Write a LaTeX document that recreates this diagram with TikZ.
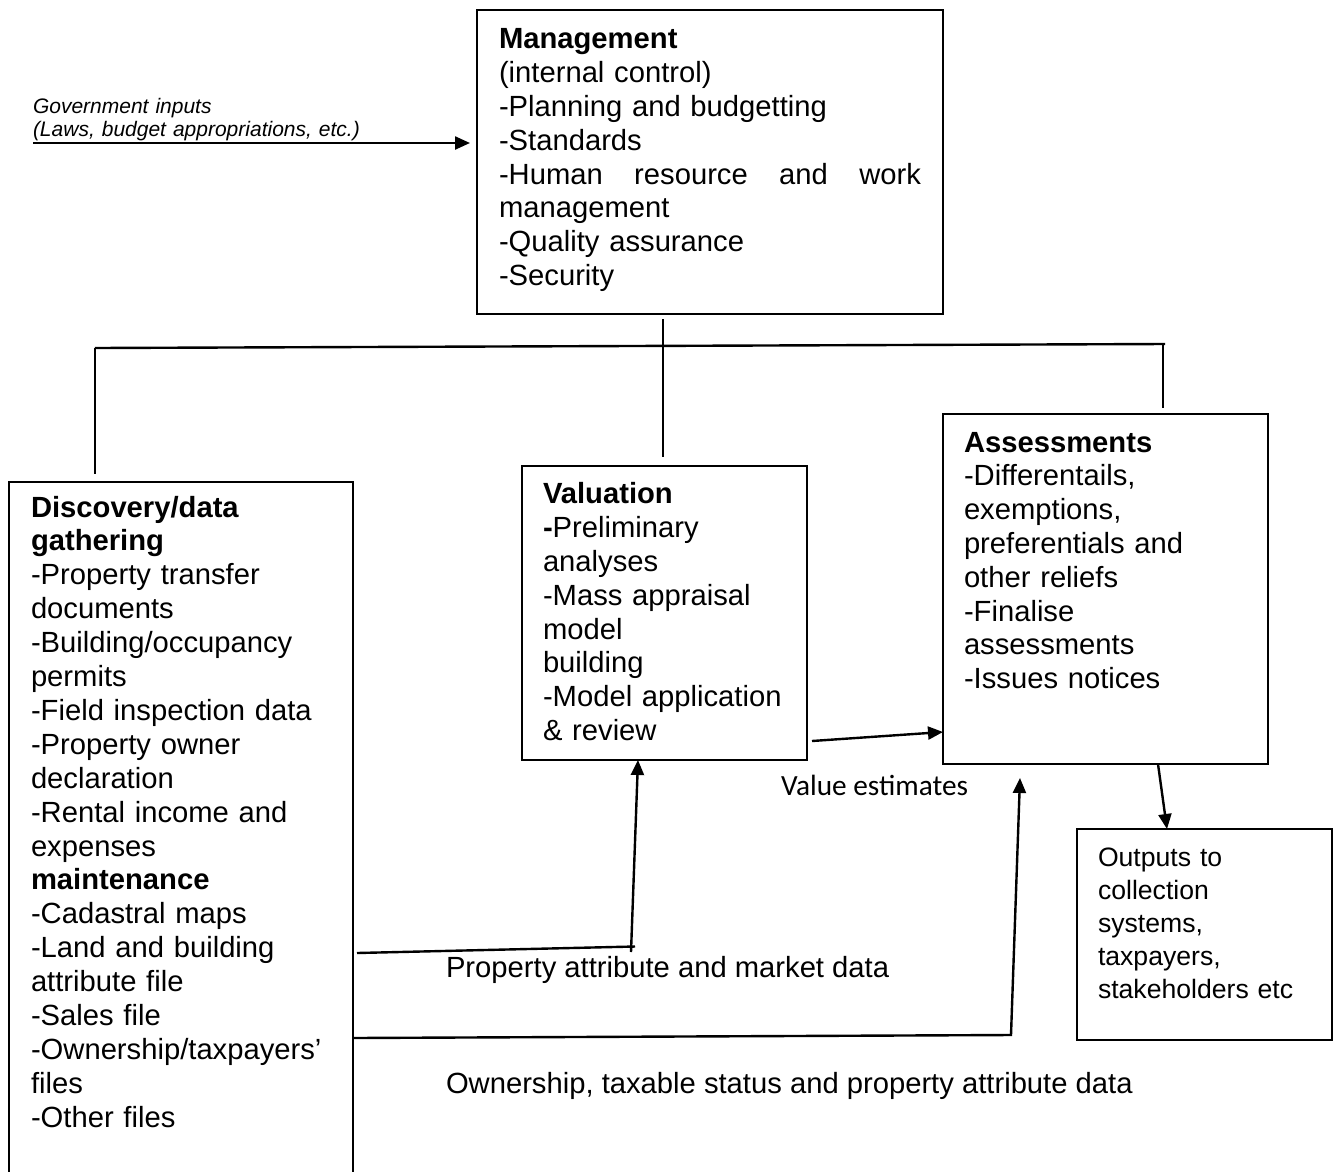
\documentclass[tikz,border=0pt]{standalone}
\usepackage{fontspec}
\setmainfont{Liberation Sans}
\newfontfamily\calib{Carlito}
\usetikzlibrary{arrows.meta,calc}
\newcommand\mainsz{\fontsize{29.2}{33.8}\selectfont}
\begin{document}
\begin{tikzpicture}[x=1pt,y=-1pt,
  box/.style={draw, line width=2.4pt, inner sep=0pt, outer sep=0pt, anchor=north west},
  txt/.style={anchor=north west, inner sep=0pt, outer sep=0pt, align=left, text width=#1},
  txt/.default=440pt,
  lbl/.style={anchor=base west, inner sep=0pt, outer sep=0pt},
  conn/.style={line width=2.4pt},
  arr/.style={-{Triangle[length=15pt,width=13pt]}}]
\useasboundingbox (0,0) rectangle (1334,1171);

% boxes
\node[box, minimum width=466pt, minimum height=304pt] (mgmt) at (477,10) {};
\node[box, minimum width=344pt, minimum height=720pt] (disc) at (9,482) {};
\node[box, minimum width=285pt, minimum height=294pt] (val) at (522,466) {};
\node[box, minimum width=325pt, minimum height=350pt] (ass) at (943,414) {};
\node[box, minimum width=255pt, minimum height=211pt] (outp) at (1077,829) {};

% box texts
\node[txt, font=\mainsz] (mgmtT) at (499,25.3) {\strut\textbf{Management}\\
(internal control)\\
-Planning and budgetting\\
-Standards\\
\leavevmode\hbox to 422pt{-Human\hfill resource\hfill and\hfill work}\\
management\\
-Quality assurance\\
-Security};

\node[txt, font=\fontsize{29.2}{33.9}\selectfont] (discT) at (31,493.3) {\strut\textbf{Discovery/data}\\
\textbf{gathering}\\
-Property transfer\\
documents\\
-Building/occupancy\\
permits\\
-Field inspection data\\
-Property owner\\
declaration\\
-Rental income and\\
expenses\\
\textbf{maintenance}\\
-Cadastral maps\\
-Land and building\\
attribute file\\
-Sales file\\
-Ownership/taxpayers’\\
files\\
-Other files};

\node[txt, font=\mainsz] (valT) at (543,480.3) {\strut\textbf{Valuation}\\
\textbf{-}Preliminary\\
analyses\\
-Mass appraisal\\
model\\
building\\
-Model application\\
\& review};

\node[txt, font=\mainsz] (assT) at (964,428.5) {\strut\textbf{Assessments}\\
-Differentails,\\
exemptions,\\
preferentials and\\
other reliefs\\
-Finalise\\
assessments\\
-Issues notices};

\node[txt, font=\fontsize{26.6}{32.9}\selectfont] (outT) at (1098,843.5) {\strut Outputs to\\
collection\\
systems,\\
taxpayers,\\
stakeholders etc};

% government inputs
\node[txt, font=\fontsize{21}{23}\selectfont\itshape] (gov) at (33,96.9) {\strut Government inputs\\
(Laws, budget appropriations, etc.)};
\coordinate (g0) at (33,143);
\draw[conn, arr, shorten >=7pt] (g0) -- (g0 -| mgmt.west);

% bus lines
\coordinate (bL) at (95,348);
\coordinate (bR) at (1165,344);
\draw[conn] (bL) -- (bR);
\draw[conn, shorten >=8pt] (bL) -- (bL |- disc.north);
\coordinate (mc) at ($(mgmt.south west)+(186,5)$);
\draw[conn, shorten >=9pt] (mc) -- (mc |- val.north);
\coordinate (rT) at (1163,345);
\draw[conn, shorten >=6pt] (rT) -- (rT |- ass.north);

% valuation -> assessments
\draw[conn, arr] ($(val.south east)+(5,-19)$) -- ($(ass.south west)+(0,-32)$);
\node[lbl, font=\calib\fontsize{29.3}{34}\selectfont] (valest) at (781,795.5) {Value estimates};

% assessments -> outputs
\draw[conn, arr] ($(ass.south west)+(215,0)$) -- ($(outp.north west)+(90,0)$);

% discovery -> valuation
\coordinate (k1) at (635,946.5);
\coordinate (k2) at (631,952);
\draw[conn] ($(disc.north east)+(4,471)$) -- (k1);
\draw[conn, arr] (k2) -- ($(val.south west)+(116,0)$);
\node[lbl, font=\mainsz] (propl) at (446,977) {Property attribute and market data};

% discovery -> assessments
\coordinate (k3) at (1011,1035);
\draw[conn, arr] ($(disc.north east)+(0,556)$) -- (k3) -- ($(ass.south west)+(77,14)$);
\node[lbl, font=\mainsz] (ownl) at (446,1093.5) {Ownership, taxable status and property attribute data};
\end{tikzpicture}
\end{document}
